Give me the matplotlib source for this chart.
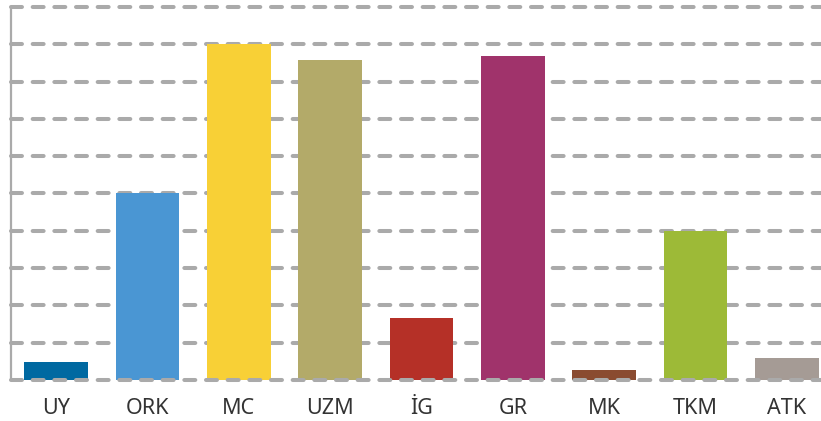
import matplotlib
matplotlib.use("Agg")
import matplotlib.pyplot as plt

categories = ["UY", "ORK", "MC", "UZM", "İG", "GR", "MK", "TKM", "ATK"]
values = [0.48, 5.0, 9.0, 8.58, 1.66, 8.69, 0.27, 4.0, 0.59]
colors = ["#0069a1", "#4a96d3", "#f8d036", "#b3aa69", "#b53027",
          "#a0336b", "#8a4b30", "#9dba37", "#a59b95"]

plt.rcParams["font.family"] = ["Noto Sans", "DejaVu Sans"]
plt.rcParams["lines.scale_dashes"] = False

fig = plt.figure(figsize=(8.21, 4.21), dpi=100)
# axes runs a bit past the right edge of the figure, as in the original
ax = fig.add_axes([10.5 / 821, 41 / 421, 822 / 821, 373 / 421])

x = range(len(categories))
ax.bar(x, values, width=0.70, color=colors, zorder=1)

ax.set_xlim(-0.5, len(categories) - 0.5)
ax.set_ylim(0, 10)
for yv in range(0, 11):
    ax.axhline(yv, color="#aaaaaa", lw=2.9, ls=(0, (7.9, 7.7)),
               dash_capstyle="round", zorder=0 if yv else 2, clip_on=False)

for s in ["top", "right", "bottom"]:
    ax.spines[s].set_visible(False)
ax.spines["left"].set_color("#aaaaaa")
ax.spines["left"].set_linewidth(1.6)

ax.set_yticks([])
ax.set_xticks(list(x))
ax.set_xticklabels(categories, fontsize=15.5, color="#333333")
ax.tick_params(axis="x", length=0, pad=13)

fig.savefig("out.png", dpi=100)
